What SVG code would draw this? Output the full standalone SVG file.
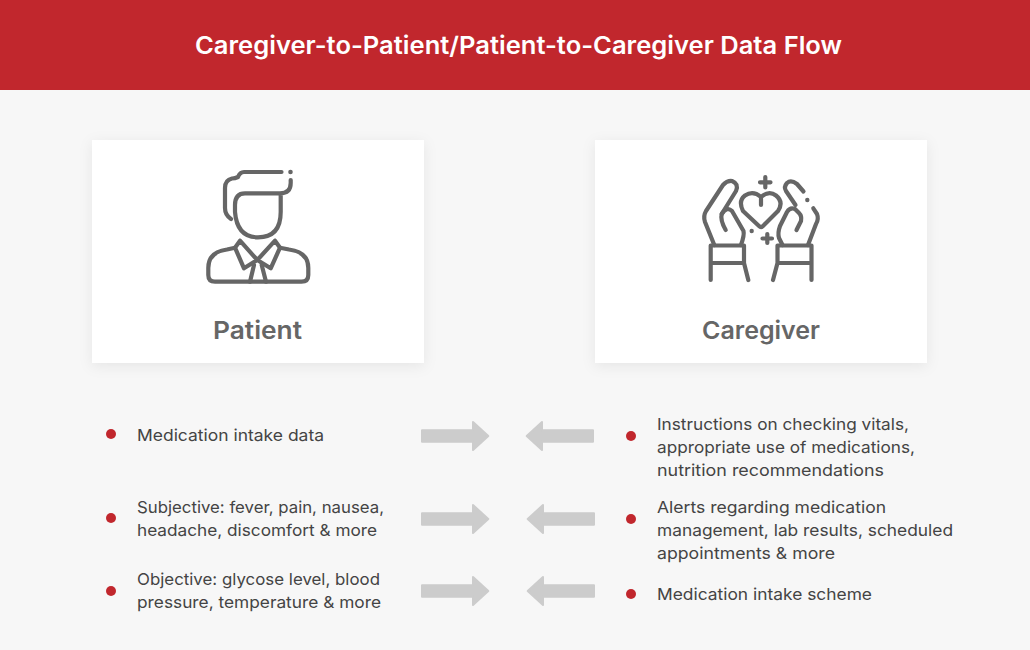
<svg xmlns="http://www.w3.org/2000/svg" width="1030" height="650" viewBox="0 0 1030 650">
<style>
text{font-family:"Inter","Open Sans","Liberation Sans",sans-serif}
.b{font-size:16.5px;fill:#444}
.l{font-size:24.5px;font-weight:600;fill:#666}
.ic{fill:none;stroke:#666;stroke-width:4.2;stroke-linecap:round;stroke-linejoin:round}
.dot{fill:#c1272d}
.ar{fill:#ccc;stroke:#ccc;stroke-width:2;stroke-linejoin:round}
.card{fill:#fff;filter:url(#sh)}
</style>
<defs>
<filter id="sh" x="-10%" y="-10%" width="120%" height="125%"><feDropShadow dx="0" dy="3" stdDeviation="7" flood-color="#000" flood-opacity="0.07"/></filter>
<path id="ra" d="M422 430.300H473V422L488.300 436L473 450V441.700H422Z"/>
</defs>
<rect width="1030" height="650" fill="#f7f7f7"/>
<rect width="1030" height="90" fill="#c1272d"/>
<text x="195" y="54" font-size="24.5" font-weight="600" fill="#fff" textLength="647" lengthAdjust="spacingAndGlyphs">Caregiver-to-Patient/Patient-to-Caregiver Data Flow</text>
<g id="patient">
<rect class="card" x="92" y="140" width="332" height="223"/>
<g class="ic">
<path d="M281.500 172H244Q240 172 238 177Q235 178.500 232 178.500Q225 180 225 188V208Q225 215 231 219"/>
<path d="M290.700 180V183Q290.700 193.300 280 193.300H245Q235 193.300 235 205V212Q237 237.300 258 237.300Q280.700 237.300 280.700 212V194"/>
<path d="M240 240.700L257.300 260L275 240.700M240 240.700L235 247.700L244 268.300L257.300 260L270.700 268.300L280 247.700L275 240.700"/>
<path d="M235 247.700L227 249.500Q208.300 252 208.300 268V275Q208.300 281.700 215 281.700H301.500Q308.300 281.700 308.300 275V268Q308.300 252 289 249.500L280 247.700"/>
<path d="M254 265L250 281.700M261.700 265L266 281.700"/>
</g>
<circle cx="290.500" cy="172" r="2.300" fill="#666"/>
<text class="l" x="213" y="339" textLength="89" lengthAdjust="spacingAndGlyphs">Patient</text>
</g>
<g id="caregiver">
<rect class="card" x="595" y="140" width="332" height="223"/>
<g class="ic">
<path d="M714.300 245L705 222Q703 216 706 211L723 185Q727 180.500 732 181Q739 184 736 191L721.700 214Q720 220 725.700 230"/>
<path d="M721.700 214Q727 206 732 211L743.500 231Q744.500 235 741 245"/>
<path d="M710.700 245.500H744V263H710.700ZM710.700 263V280M744 263L748.300 280"/>
<path d="M803.500 191.500L797 184Q791 179.500 787 183Q783.500 187 786 191L795.500 205"/>
<path d="M813.300 208.300L817 214Q819 219 816 224L808 245"/>
<path d="M796.500 230L801 221Q802 216 799 213L795 209Q790 207 787 212L780 226Q777.500 233 779 238L782.500 245"/>
<path d="M777.500 245.500H811.500V263H777.500ZM811.500 263V280M777.500 263L773 280"/>
<path d="M761 197Q753 190 745 195.500Q738 201 743 211L759 226Q761 228 763 226L778 211Q784 202 776 195.500Q769 190 761 197ZM761 197V205"/>
<path d="M765.300 177V187.500M760 182.300H770.500M767.300 234V243M762.500 238.500H772"/>
</g>
<circle cx="807.300" cy="200" r="2.200" fill="#666"/>
<circle cx="751.700" cy="231" r="2.200" fill="#666"/>
<text class="l" x="702" y="339" textLength="118" lengthAdjust="spacingAndGlyphs">Caregiver</text>
</g>
<g id="connectors">
<use href="#ra" class="ar"/>
<use href="#ra" class="ar" transform="translate(0 83)"/>
<use href="#ra" class="ar" transform="translate(0 155)"/>
<use href="#ra" class="ar" transform="translate(1015 0) scale(-1 1)"/>
<use href="#ra" class="ar" transform="translate(1016 83) scale(-1 1)"/>
<use href="#ra" class="ar" transform="translate(1016 155) scale(-1 1)"/>
</g>
<g id="patient-items">
<circle class="dot" cx="111" cy="434" r="5"/>
<text class="b" x="137" y="441" textLength="187" lengthAdjust="spacingAndGlyphs">Medication intake data</text>
<circle class="dot" cx="111" cy="518" r="5"/>
<text class="b" x="137" y="513" textLength="247" lengthAdjust="spacingAndGlyphs">Subjective: fever, pain, nausea,</text>
<text class="b" x="137" y="536" textLength="240" lengthAdjust="spacingAndGlyphs">headache, discomfort &amp; more</text>
<circle class="dot" cx="111" cy="591" r="5"/>
<text class="b" x="137" y="585" textLength="243" lengthAdjust="spacingAndGlyphs">Objective: glycose level, blood</text>
<text class="b" x="137" y="608" textLength="244" lengthAdjust="spacingAndGlyphs">pressure, temperature &amp; more</text>
</g>
<g id="caregiver-items">
<circle class="dot" cx="631" cy="436" r="5"/>
<text class="b" x="657" y="430" textLength="252" lengthAdjust="spacingAndGlyphs">Instructions on checking vitals,</text>
<text class="b" x="657" y="453" textLength="258" lengthAdjust="spacingAndGlyphs">appropriate use of medications,</text>
<text class="b" x="657" y="476" textLength="227" lengthAdjust="spacingAndGlyphs">nutrition recommendations</text>
<circle class="dot" cx="631" cy="519" r="5"/>
<text class="b" x="657" y="513" textLength="229" lengthAdjust="spacingAndGlyphs">Alerts regarding medication</text>
<text class="b" x="657" y="536" textLength="296" lengthAdjust="spacingAndGlyphs">management, lab results, scheduled</text>
<text class="b" x="657" y="559" textLength="178" lengthAdjust="spacingAndGlyphs">appointments &amp; more</text>
<circle class="dot" cx="631" cy="594" r="5"/>
<text class="b" x="657" y="600" textLength="215" lengthAdjust="spacingAndGlyphs">Medication intake scheme</text>
</g>
</svg>
